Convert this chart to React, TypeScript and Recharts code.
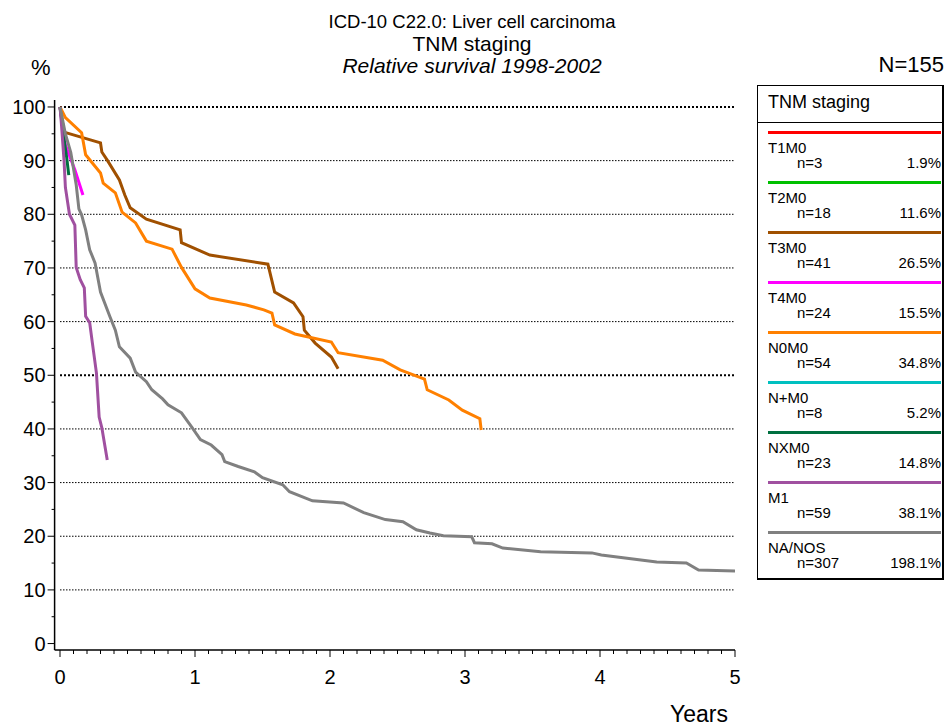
import { LineChart, Line, XAxis, YAxis, ReferenceLine } from "recharts"

type Pt = { t: number; v: number }

// survival curves (years, % relative survival)
const t1m0: Pt[] = [{ t: 0, v: 100 }]
const t2m0: Pt[] = [{ t: 0, v: 100 }]
const t3m0: Pt[] = [
  { t: 0, v: 100 }, { t: 0.03, v: 95.3 }, { t: 0.3, v: 93.3 }, { t: 0.31, v: 91.6 },
  { t: 0.35, v: 90.1 }, { t: 0.44, v: 86.4 }, { t: 0.48, v: 83.6 }, { t: 0.52, v: 81.2 },
  { t: 0.64, v: 79.1 }, { t: 0.89, v: 77.1 }, { t: 0.9, v: 74.7 }, { t: 1.11, v: 72.4 },
  { t: 1.54, v: 70.7 }, { t: 1.59, v: 65.5 }, { t: 1.73, v: 63.5 }, { t: 1.8, v: 60.9 },
  { t: 1.81, v: 58.4 }, { t: 1.89, v: 56.0 }, { t: 2.01, v: 53.4 }, { t: 2.06, v: 51.2 },
]
const t4m0: Pt[] = [
  { t: 0, v: 100 }, { t: 0.04, v: 92.9 }, { t: 0.11, v: 88.3 }, { t: 0.17, v: 83.6 },
]
const n0m0: Pt[] = [
  { t: 0, v: 100 }, { t: 0.04, v: 98 }, { t: 0.16, v: 95.2 }, { t: 0.19, v: 91.1 },
  { t: 0.3, v: 87.7 }, { t: 0.32, v: 85.8 }, { t: 0.41, v: 84 }, { t: 0.46, v: 80.4 },
  { t: 0.56, v: 78.4 }, { t: 0.64, v: 75.0 }, { t: 0.83, v: 73.5 }, { t: 0.9, v: 70.1 },
  { t: 1.0, v: 66.1 }, { t: 1.11, v: 64.4 }, { t: 1.38, v: 63.1 }, { t: 1.51, v: 62.2 },
  { t: 1.57, v: 61.6 }, { t: 1.59, v: 59.4 }, { t: 1.74, v: 57.7 }, { t: 2.01, v: 56.2 },
  { t: 2.06, v: 54.2 }, { t: 2.39, v: 52.8 }, { t: 2.52, v: 51.0 }, { t: 2.7, v: 49.3 },
  { t: 2.72, v: 47.3 }, { t: 2.88, v: 45.4 }, { t: 2.98, v: 43.5 }, { t: 3.11, v: 41.9 },
  { t: 3.12, v: 39.8 },
]
const npm0: Pt[] = [{ t: 0, v: 100 }]
const nxm0: Pt[] = [
  { t: 0, v: 100 }, { t: 0.03, v: 94 }, { t: 0.05, v: 90.5 }, { t: 0.065, v: 87.3 },
]
const m1: Pt[] = [
  { t: 0, v: 100 }, { t: 0.01, v: 97 }, { t: 0.03, v: 90 }, { t: 0.04, v: 85 },
  { t: 0.07, v: 80 }, { t: 0.11, v: 78 }, { t: 0.12, v: 70.1 }, { t: 0.15, v: 67.8 },
  { t: 0.18, v: 66.3 }, { t: 0.19, v: 61 }, { t: 0.22, v: 59.8 }, { t: 0.24, v: 56 },
  { t: 0.27, v: 50.4 }, { t: 0.29, v: 42.2 }, { t: 0.31, v: 40.2 }, { t: 0.35, v: 34.2 },
]
const nanos: Pt[] = [
  { t: 0, v: 100 }, { t: 0.04, v: 95 }, { t: 0.08, v: 91.5 }, { t: 0.12, v: 85.5 },
  { t: 0.14, v: 81 }, { t: 0.16, v: 79.9 }, { t: 0.19, v: 77.1 }, { t: 0.22, v: 73.4 },
  { t: 0.26, v: 70.9 }, { t: 0.3, v: 65.5 }, { t: 0.37, v: 60.9 }, { t: 0.41, v: 58.4 },
  { t: 0.44, v: 55.3 }, { t: 0.52, v: 53.2 }, { t: 0.56, v: 50.6 }, { t: 0.64, v: 48.8 },
  { t: 0.68, v: 47.3 }, { t: 0.76, v: 45.6 }, { t: 0.8, v: 44.5 }, { t: 0.9, v: 43 },
  { t: 0.98, v: 40.2 }, { t: 1.04, v: 38 }, { t: 1.12, v: 37 }, { t: 1.2, v: 35.2 },
  { t: 1.22, v: 33.9 }, { t: 1.32, v: 33.0 }, { t: 1.44, v: 32 }, { t: 1.5, v: 30.9 },
  { t: 1.65, v: 29.6 }, { t: 1.7, v: 28.3 }, { t: 1.87, v: 26.6 }, { t: 2.1, v: 26.2 },
  { t: 2.25, v: 24.4 }, { t: 2.41, v: 23.1 }, { t: 2.54, v: 22.7 }, { t: 2.64, v: 21.2 },
  { t: 2.74, v: 20.6 }, { t: 2.84, v: 20.1 }, { t: 3.05, v: 19.9 }, { t: 3.07, v: 18.8 },
  { t: 3.2, v: 18.6 }, { t: 3.28, v: 17.8 }, { t: 3.56, v: 17.1 }, { t: 3.94, v: 16.9 },
  { t: 4.01, v: 16.5 }, { t: 4.42, v: 15.2 }, { t: 4.64, v: 15.0 }, { t: 4.73, v: 13.7 },
  { t: 5.0, v: 13.5 },
]

const seriesNames = ["T1M0", "T2M0", "T3M0", "T4M0", "N0M0", "N+M0", "NXM0", "M1", "NA/NOS"]
const seriesCounts = [3, 18, 41, 24, 54, 8, 23, 59, 307]
const seriesShares = ["1.9%", "11.6%", "26.5%", "15.5%", "34.8%", "5.2%", "14.8%", "38.1%", "198.1%"]
const seriesColors = ["#ff0000", "#00c000", "#a05000", "#ff00ff", "#ff8000", "#00c0c0", "#007040", "#a050a0", "#808080"]
const seriesData = [t1m0, t2m0, t3m0, t4m0, n0m0, npm0, nxm0, m1, nanos]

const yearLabels = [0, 1, 2, 3, 4, 5]
const yearMinorTicks = Array.from({ length: 51 }, (_, i) => i / 10)
const pctLabels = [0, 10, 20, 30, 40, 50, 60, 70, 80, 90, 100]
const pctMinorTicks = Array.from({ length: 21 }, (_, i) => i * 5)
const gridLines = [10, 20, 30, 40, 60, 70, 80, 90]
const boldGridLines = [50, 100]

const FONT = "'Liberation Sans', Arial, sans-serif"

const XTick = (props: any) => {
  const { x, y, payload } = props
  const major = yearLabels.includes(payload.value)
  return (
    <g>
      <line x1={x} x2={x} y1={y} y2={y + (major ? 7 : 4)} stroke="#000" strokeWidth={1} />
      {major && (
        <text x={x} y={y + 34} textAnchor="middle" fontSize={20} fontFamily={FONT} fill="#000">
          {payload.value}
        </text>
      )}
    </g>
  )
}

const YTick = (props: any) => {
  const { x, y, payload } = props
  const major = pctLabels.includes(payload.value)
  return (
    <g>
      <line x1={x - (major ? 7 : 3)} x2={x} y1={y} y2={y} stroke="#000" strokeWidth={1} />
      {major && (
        <text x={x - 9} y={y + 7} textAnchor="end" fontSize={20} fontFamily={FONT} fill="#000">
          {payload.value}
        </text>
      )}
    </g>
  )
}

export default function App() {
  return (
    <div style={{ position: "absolute", left: 0, top: 0, width: 951, height: 727, background: "#fff", fontFamily: FONT }}>
      <div style={{ position: "absolute", left: 0, width: 944, top: 11, textAlign: "center", fontSize: 18.5, lineHeight: "22px" }}>
        ICD-10 C22.0: Liver cell carcinoma
      </div>
      <div style={{ position: "absolute", left: 0, width: 944, top: 32, textAlign: "center", fontSize: 21, lineHeight: "24px" }}>
        TNM staging
      </div>
      <div style={{ position: "absolute", left: 0, width: 944, top: 54, textAlign: "center", fontSize: 21, lineHeight: "24px", fontStyle: "italic" }}>
        Relative survival 1998-2002
      </div>
      <div style={{ position: "absolute", left: 31, top: 55, fontSize: 22, lineHeight: "26px" }}>%</div>
      <div style={{ position: "absolute", right: 7, top: 53, fontSize: 22, lineHeight: "24px" }}>N=155</div>
      <div style={{ position: "absolute", left: 670, top: 702, fontSize: 23, lineHeight: "24px" }}>Years</div>

      <LineChart width={951} height={727} margin={{ top: 100, right: 216, bottom: 17, left: 4.6 }}>
        <XAxis
          dataKey="t"
          type="number"
          domain={[-0.04, 5]}
          ticks={yearMinorTicks}
          interval={0}
          tick={<XTick />}
          tickLine={false}
          tickSize={0}
          tickMargin={0}
          height={60}
          axisLine={{ stroke: "#000", strokeWidth: 1.5 }}
          allowDataOverflow
        />
        <YAxis
          type="number"
          domain={[-1.2, 101.3]}
          ticks={pctMinorTicks}
          interval={0}
          tick={<YTick />}
          tickLine={false}
          tickSize={0}
          tickMargin={0}
          width={50}
          axisLine={{ stroke: "#000", strokeWidth: 1.5 }}
          allowDataOverflow
        />
        {gridLines.map((g) => (
          <ReferenceLine
            key={g}
            segment={[{ x: 0, y: g }, { x: 5, y: g }]}
            stroke="#000"
            strokeWidth={1}
            strokeDasharray="1.5 1.5"
          />
        ))}
        {boldGridLines.map((g) => (
          <ReferenceLine
            key={g}
            segment={[{ x: 0, y: g }, { x: 5, y: g }]}
            stroke="#000"
            strokeWidth={2}
            strokeDasharray="2 2"
          />
        ))}
        {seriesData.map((d, i) =>
          d.length > 1 ? (
            <Line
              key={seriesNames[i]}
              data={d}
              dataKey="v"
              type="linear"
              stroke={seriesColors[i]}
              strokeWidth={3}
              dot={false}
              activeDot={false}
              isAnimationActive={false}
            />
          ) : null
        )}
      </LineChart>

      <div
        style={{
          position: "absolute",
          left: 757,
          top: 85,
          width: 187,
          height: 495,
          border: "1px solid #000",
          borderRightWidth: 2,
          borderBottomWidth: 2,
          boxSizing: "border-box",
        }}
      >
        <div style={{ height: 37, borderBottom: "1px solid #000", boxSizing: "border-box", paddingLeft: 10, paddingTop: 5, fontSize: 18, lineHeight: "22px" }}>
          TNM staging
        </div>
        {seriesNames.map((name, i) => (
          <div key={name} style={{ position: "absolute", left: 10, width: 173, top: 45 + i * 50, height: 50 }}>
            <div style={{ height: 3, background: seriesColors[i], width: 173 }} />
            <div style={{ fontSize: 15, lineHeight: "15px", marginTop: 6 }}>{name}</div>
            <div style={{ fontSize: 15, lineHeight: "15px", display: "flex", justifyContent: "space-between", paddingLeft: 29 }}>
              <span>n={seriesCounts[i]}</span>
              <span>{seriesShares[i]}</span>
            </div>
          </div>
        ))}
      </div>
    </div>
  )
}
